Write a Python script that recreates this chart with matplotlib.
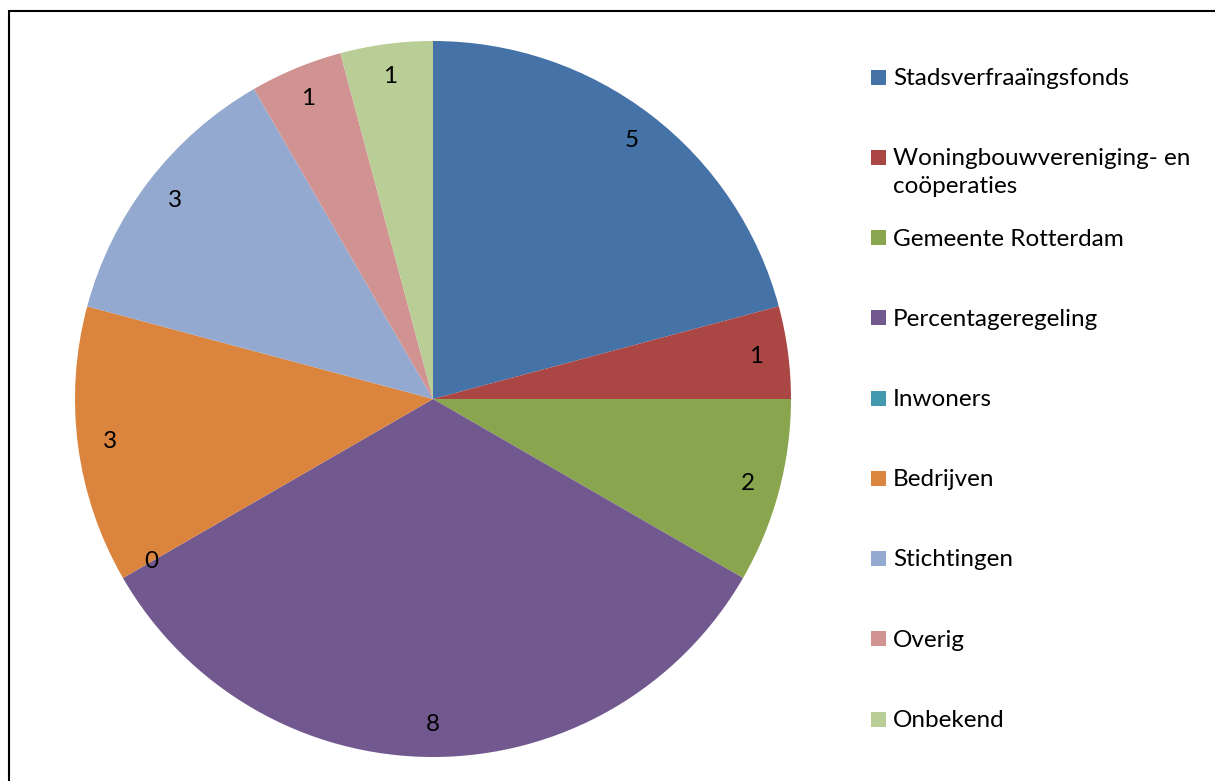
import matplotlib.pyplot as plt
from matplotlib.patches import Rectangle

labels = ['Stadsverfraaïngsfonds', 'Woningbouwvereniging- en\ncoöperaties',
          'Gemeente Rotterdam', 'Percentageregeling', 'Inwoners', 'Bedrijven',
          'Stichtingen', 'Overig', 'Onbekend']
values = [5, 1, 2, 8, 0, 3, 3, 1, 1]
colors = ['#4572A7', '#AA4643', '#89A54E', '#71588F', '#4198AF',
          '#DB843D', '#93A9CF', '#D19392', '#B9CD96']

plt.rcParams['font.family'] = ['Lato', 'DejaVu Sans']

W, H = 1215, 781
fig = plt.figure(figsize=(W / 100, H / 100), dpi=100)

# pie: centre (433, 399) px, radius 358 px
cx, cy, r = 433, 399, 358
ax = fig.add_axes([(cx - r) / W, (H - cy - r) / H, 2 * r / W, 2 * r / H])
total = sum(values)
ax.pie(values, colors=colors, startangle=90, counterclock=False,
       autopct=lambda p: '%d' % round(p * total / 100), pctdistance=0.91,
       textprops={'fontsize': 17.5, 'color': 'black'},
       wedgeprops={'linewidth': 0})
ax.set_xlim(-1, 1)
ax.set_ylim(-1, 1)
ax.set_aspect('equal')

# legend, placed by hand like Excel does it
y0, step = 77, 80.25
for i, (lab, col) in enumerate(zip(labels, colors)):
    y = y0 + i * step
    fig.patches.append(Rectangle((871 / W, 1 - (y + 7.5) / H), 15 / W, 15 / H,
                                 facecolor=col, edgecolor='none',
                                 transform=fig.transFigure, figure=fig))
    fig.text(893 / W, 1 - (y - 9) / H, lab, fontsize=17.5, va='top', ha='left',
             linespacing=1.4)

# chart border (continues past the right and bottom edges)
fig.patches.append(Rectangle((8.5 / W, -0.1), 1.2, 1.1 - 11.5 / H, fill=False,
                             edgecolor='black', linewidth=1.5,
                             transform=fig.transFigure, figure=fig))

fig.savefig('out.png', dpi=100)
